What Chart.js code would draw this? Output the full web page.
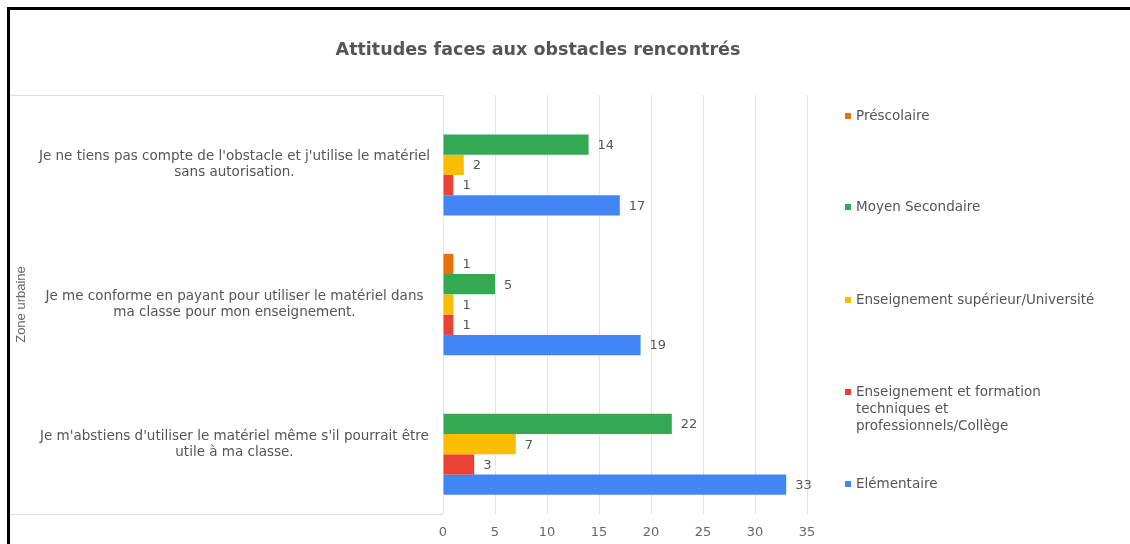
<!DOCTYPE html>
<html lang="fr">
<head>
<meta charset="utf-8">
<title>Attitudes faces aux obstacles rencontrés</title>
<script src="https://cdn.jsdelivr.net/npm/chart.js@4.4.1/dist/chart.umd.min.js"></script>
<style>
    body { margin: 0; background: #fff; font-family: 'DejaVu Sans', sans-serif; }
    .wrap { position: relative; width: 1130px; height: 544px; overflow: hidden; }
    .frame { position: absolute; left: 7px; top: 7px; width: 1200px; height: 600px;
             border-left: 3px solid #000; border-top: 3px solid #000; }
    .chart-title { position: absolute; left: 288px; width: 500px; top: 39px; text-align: center;
                   font-weight: bold; font-size: 17.5px; color: #555; }
    .legend { position: absolute; left: 845px; top: 0; font-size: 13.5px; color: #555; }
    .legend-item { position: absolute; left: 0; white-space: nowrap; line-height: 17px; }
    .legend-item .sw { position: absolute; left: 0; top: 6px; width: 6px; height: 6px; }
    .legend-item .txt { position: absolute; left: 11px; top: 0; }
    canvas { position: absolute; left: 0; top: 0; }
</style>
</head>
<body>
<div class="wrap">
    <div class="frame"></div>
    <canvas id="attitudesChart" width="1130" height="544"></canvas>
    <div class="chart-title" id="chartTitle"></div>
    <div class="legend" id="legend"></div>
</div>

<script>
// ===== DATA =====
const chartTitle = 'Attitudes faces aux obstacles rencontrés';
const axisTitle = 'Zone urbaine';

const categories = [
    ["Je ne tiens pas compte de l'obstacle et j'utilise le matériel", 'sans autorisation.'],
    ['Je me conforme en payant pour utiliser le matériel dans', 'ma classe pour mon enseignement.'],
    ["Je m'abstiens d'utiliser le matériel même s'il pourrait être", 'utile à ma classe.']
];

const seriesNames = [
    'Préscolaire',
    'Moyen Secondaire',
    'Enseignement supérieur/Université',
    'Enseignement et formation techniques et professionnels/Collège',
    'Elémentaire'
];

// legend text wraps this way in the side panel
const legendLines = [
    ['Préscolaire'],
    ['Moyen Secondaire'],
    ['Enseignement supérieur/Université'],
    ['Enseignement et formation', 'techniques et', 'professionnels/Collège'],
    ['Elémentaire']
];

const prescolaire = [0, 1, 0];
const moyenSecondaire = [14, 5, 22];
const superieur = [2, 1, 7];
const technique = [1, 1, 3];
const elementaire = [17, 19, 33];

const xTicks = [0, 5, 10, 15, 20, 25, 30, 35];

const colors = ['#e8710a', '#34a853', '#fbbc04', '#ea4335', '#4285f4'];

const FONT = '"DejaVu Sans", sans-serif';

// ===== TITLE + LEGEND (html) =====
document.getElementById('chartTitle').textContent = chartTitle;

const legendTops = [107, 198, 291, 383, 475];
const legendEl = document.getElementById('legend');
legendLines.forEach((lines, i) => {
    const item = document.createElement('div');
    item.className = 'legend-item';
    item.style.top = legendTops[i] + 'px';
    item.innerHTML = `<span class="sw" style="background:${colors[i]}"></span>` +
        `<span class="txt">${lines.join('<br>')}</span>`;
    legendEl.appendChild(item);
});

// ===== PLUGINS =====
// light frame around the category label panel
const categoryBox = {
    id: 'categoryBox',
    beforeDraw(chart) {
        const { ctx, chartArea } = chart;
        ctx.save();
        ctx.strokeStyle = '#dcdcdc';
        ctx.lineWidth = 1;
        ctx.beginPath();
        ctx.moveTo(10, chartArea.top + 0.5);
        ctx.lineTo(chartArea.left, chartArea.top + 0.5);
        ctx.moveTo(10, chartArea.bottom + 0.5);
        ctx.lineTo(chartArea.left, chartArea.bottom + 0.5);
        ctx.stroke();
        ctx.restore();
    }
};

// value printed after the end of each bar (zeros are skipped)
const valueLabels = {
    id: 'valueLabels',
    afterDatasetsDraw(chart) {
        const { ctx } = chart;
        ctx.save();
        ctx.font = '13px ' + FONT;
        ctx.fillStyle = '#555';
        ctx.textAlign = 'left';
        ctx.textBaseline = 'middle';
        chart.data.datasets.forEach((ds, di) => {
            const meta = chart.getDatasetMeta(di);
            meta.data.forEach((bar, i) => {
                const v = ds.data[i];
                if (!v) return;
                ctx.fillText(String(v), bar.x + 9, bar.y + 1);
            });
        });
        ctx.restore();
    }
};

// ===== CHART =====
const seriesData = [prescolaire, moyenSecondaire, superieur, technique, elementaire];

const ctx = document.getElementById('attitudesChart').getContext('2d');
const attitudesChart = new Chart(ctx, {
    type: 'bar',
    data: {
        labels: categories,
        datasets: seriesNames.map((name, i) => ({
            label: name,
            data: seriesData[i],
            backgroundColor: colors[i],
            borderWidth: 0,
            categoryPercentage: 0.726,
            barPercentage: 1.0
        }))
    },
    options: {
        indexAxis: 'y',
        responsive: false,
        animation: false,
        layout: { padding: { left: 10, right: 323, top: 95, bottom: 0 } },
        plugins: {
            legend: { display: false },
            title: { display: false },
            tooltip: { enabled: false }
        },
        scales: {
            x: {
                min: xTicks[0],
                max: xTicks[xTicks.length - 1],
                afterBuildTicks: scale => { scale.ticks = xTicks.map(v => ({ value: v })); },
                afterFit: scale => { scale.height = 30; },
                border: { display: false },
                grid: { color: '#e4e4e4', drawTicks: false },
                ticks: {
                    color: '#666',
                    padding: 11,
                    font: { family: FONT, size: 13 }
                }
            },
            y: {
                afterFit: scale => { scale.width = 433; },
                border: { display: false },
                grid: { display: false, drawTicks: false },
                ticks: {
                    crossAlign: 'center',
                    padding: 13,
                    color: '#555',
                    font: { family: FONT, size: 13.5, lineHeight: 1.2 }
                },
                title: {
                    display: true,
                    text: axisTitle,
                    color: '#666',
                    padding: { top: 4, bottom: 0 },
                    font: { family: '"Liberation Sans", Arial, sans-serif', size: 13 }
                }
            }
        }
    },
    plugins: [categoryBox, valueLabels]
});
</script>
</body>
</html>
